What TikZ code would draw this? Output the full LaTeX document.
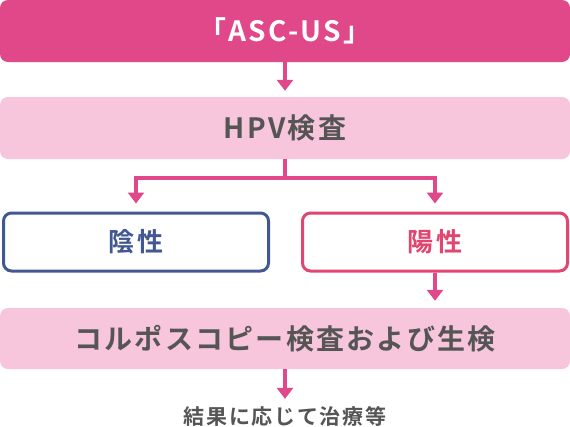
\documentclass[tikz,border=0pt]{standalone}
\usepackage{fontspec}
\newfontfamily\jpfont{Noto Sans CJK JP Bold}[LetterSpace=8]
\usetikzlibrary{arrows.meta}
\definecolor{ascpink}{RGB}{224,72,138}
\definecolor{lightpink}{RGB}{248,198,220}
\definecolor{negblue}{RGB}{67,88,147}
\definecolor{posred}{RGB}{226,69,111}
\definecolor{textgray}{RGB}{85,85,85}

\begin{document}
\begin{tikzpicture}[x=1pt, y=-1pt,
  box/.style={rectangle, rounded corners=8pt, minimum width=570pt, minimum height=62pt,
    inner sep=0pt, text=textgray, font=\jpfont\fontsize{28}{28}\selectfont},
  result/.style={rectangle, rounded corners=8pt, line width=3pt, fill=white,
    minimum width=265pt, minimum height=58pt, inner sep=0pt,
    font=\jpfont\fontsize{26}{26}\selectfont},
  arr/.style={ascpink, line width=4pt, -{Triangle[width=16pt,length=11pt]}}]
  \useasboundingbox (0,0) rectangle (570,426);

  \node[box, fill=ascpink, text=white] (asc) at (285,31) {「ASC-US」};
  \node[box, fill=lightpink] (hpv) at (285,128) {HPV検査};
  \node[result, draw=negblue, text=negblue] (neg) at (136,242) {陰性};
  \node[result, draw=posred, text=posred] (pos) at (435,242) {陽性};
  \node[box, fill=lightpink, minimum height=61pt] (colpo) at (285,338.5) {コルポスコピー検査および生検};
  \node[text=textgray, inner sep=0pt, font=\jpfont\fontsize{21}{21}\selectfont] (treat) at (285,416) {結果に応じて治療等};

  \coordinate (split) at (285,178);
  \path[arr]
  (asc) edge[shorten >=6pt] (hpv)
  (pos) edge[shorten >=7pt] (pos |- colpo.north)
  (colpo) edge[shorten >=7pt] (treat);
  \draw[arr, shorten >=8pt] (hpv.south) -- (split) -| (neg.north);
  \draw[arr, shorten >=8pt] (split) -| (pos.north);
\end{tikzpicture}
\end{document}
